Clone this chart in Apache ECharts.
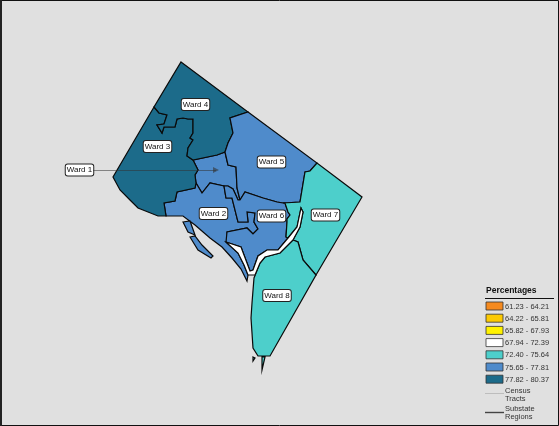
<!DOCTYPE html>
<html>
<head>
<meta charset="utf-8">
<style>
html, body { margin: 0; padding: 0; background: #e0e0e0; }
#main { width: 559px; height: 426px; }
</style>
<script src="https://cdn.jsdelivr.net/npm/echarts@6/dist/echarts.min.js"></script>
</head>
<body>
<div id="main"></div>
<script>
// ward values, percentages
var wardNames = ['Ward 1', 'Ward 2', 'Ward 3', 'Ward 4', 'Ward 5', 'Ward 6', 'Ward 7', 'Ward 8'];
var wardValues = [76.6, 76.9, 79.2, 78.8, 76.3, 76.1, 74.1, 73.6];

// legend classes
var classLabels = ['61.23 - 64.21', '64.22 - 65.81', '65.82 - 67.93', '67.94 - 72.39', '72.40 - 75.64', '75.65 - 77.81', '77.82 - 80.37'];
var classMin = [61.23, 64.22, 65.82, 67.94, 72.40, 75.65, 77.82];
var classMax = [64.21, 65.81, 67.93, 72.39, 75.64, 77.81, 80.37];
var classColors = ['#f58a1f', '#fcca03', '#fff200', '#ffffff', '#4dcfcb', '#4f8bcb', '#1c6b8a'];

// outlines in map units
var ward1 = [[193,160],[217,155],[225,152],[228,165],[236,167],[237,188],[240,200],[238,200],[233,189],[228,186],[224,186],[210,183],[202,193],[196,183],[195,175],[198,170]];
var ward2 = [[166,216],[183,216],[195,225],[210,238],[222,247],[232,258],[241,269],[247,281],[248,275],[244,265],[238,253],[227,243],[226,242],[227,232],[247,228],[253,234],[258,229],[254,222],[255,213],[247,212],[248,222],[238,222],[232,198],[226,198],[224,186],[210,183],[202,193],[196,183],[195,188],[177,192],[175,201],[164,203]];
var ward2Island1 = [[183,222],[190,221],[195,235],[188,232]];
var ward2Island2 = [[190,237],[195,236],[202,245],[213,256],[211,258],[198,250]];
var ward3 = [[154,107],[159,113],[167,115],[164,124],[157,125],[162,133],[164,127],[175,127],[177,119],[183,118],[188,119],[193,119],[193,133],[190,138],[193,140],[188,148],[187,156],[193,160],[198,170],[195,175],[196,183],[195,188],[177,192],[175,201],[164,203],[166,216],[158,216],[148,212],[138,208],[130,200],[120,190],[113,177]];
var ward4 = [[181,62],[248,112],[230,118],[233,133],[228,143],[225,152],[217,155],[193,160],[187,156],[188,148],[193,140],[190,138],[193,133],[193,119],[188,119],[183,118],[177,119],[175,127],[164,127],[162,133],[157,125],[164,124],[167,115],[159,113],[154,107]];
var ward5 = [[248,112],[317,163],[310,171],[305,172],[300,202],[283,203],[277,202],[263,198],[245,192],[240,200],[237,188],[236,167],[228,165],[225,152],[228,143],[233,133],[230,118]];
var ward6 = [[224,186],[228,186],[233,189],[238,200],[240,200],[245,192],[263,198],[277,202],[283,203],[285,203],[288,212],[290,215],[287,219],[287,222],[286,237],[288,238],[278,250],[267,250],[258,256],[253,270],[250,271],[241,247],[226,242],[227,232],[247,228],[253,234],[258,229],[254,222],[255,213],[247,212],[248,222],[238,222],[232,198],[226,198]];
var ward7 = [[283,203],[300,202],[305,172],[310,171],[317,163],[362,197],[316,275],[303,260],[298,242],[293,240],[300,227],[303,212],[301,208],[297,227],[288,238],[286,237],[287,222],[287,219],[290,215],[288,212],[285,203]];
var ward8 = [[293,240],[280,253],[265,257],[260,263],[254,278],[252,303],[251,318],[252,333],[253,348],[258,356],[270,356],[316,275],[303,260],[298,242]];
var ward8Islet = [[253,357],[255,358],[253,361]];
var ward8Tail = [[262,357],[265,357],[262,370]];
var river = [[226,242],[241,247],[250,271],[253,270],[258,256],[267,250],[278,250],[288,238],[297,227],[301,208],[303,212],[300,227],[293,240],[280,253],[265,257],[260,263],[255,275],[248,275],[244,265],[238,253],[227,243]];

// where the ward labels sit
var wardLabelAt = [[79.5,170],[213.5,213.5],[157.5,146.5],[195.5,104.5],[271.5,162],[271.5,216],[325.5,215],[277,295.5]];
var ward1Leader = [[93,170],[216,170]];

var wardShapes = [[ward1], [ward2, ward2Island1, ward2Island2], [ward3], [ward4], [ward5], [ward6], [ward7], [ward8, ward8Islet, ward8Tail]];

function closeRing(ring) {
	return [ring.concat([ring[0]])];
}

var features = wardNames.map(function(name, i) {
	return {
		type: 'Feature',
		properties: { name: name, cp: wardLabelAt[i] },
		geometry: { type: 'MultiPolygon', coordinates: wardShapes[i].map(closeRing) }
	};
});
features.push({
	type: 'Feature',
	properties: { name: 'River', cp: [265, 255] },
	geometry: { type: 'Polygon', coordinates: closeRing(river) }
});

echarts.registerMap('wards', { type: 'FeatureCollection', features: features });

// extent of the outlines, so that one map unit is one pixel
var xs = [], ys = [];
wardShapes.forEach(function(shape) {
	shape.forEach(function(ring) {
		ring.forEach(function(p) { xs.push(p[0]); ys.push(p[1]); });
	});
});
var minX = Math.min.apply(null, xs), maxX = Math.max.apply(null, xs);
var minY = Math.min.apply(null, ys), maxY = Math.max.apply(null, ys);

var legendX = 486, fontName = 'Liberation Sans', legendFont = '7.5px ' + fontName;
var legendItems = [
	{ type: 'text', style: { x: legendX, y: 286.5, text: 'Percentages', font: 'bold 8.5px ' + fontName, fill: '#111' } },
	{ type: 'line', shape: { x1: 485, y1: 298.5, x2: 554, y2: 298.5 }, style: { stroke: '#111', lineWidth: 1 } }
];
classLabels.forEach(function(label, i) {
	var y = 302 + i * 12.2;
	legendItems.push({ type: 'rect', shape: { x: legendX, y: y, width: 17, height: 8 }, style: { fill: classColors[i], stroke: '#333', lineWidth: 0.8 } });
	legendItems.push({ type: 'text', style: { x: 505, y: y + 0.5, text: label, font: legendFont, fill: '#333' } });
});
legendItems.push({ type: 'line', shape: { x1: 485, y1: 393.5, x2: 504, y2: 393.5 }, style: { stroke: '#bdbdbd', lineWidth: 1 } });
legendItems.push({ type: 'text', style: { x: 505, y: 387, text: 'Census', font: legendFont, fill: '#333' } });
legendItems.push({ type: 'text', style: { x: 505, y: 395, text: 'Tracts', font: legendFont, fill: '#333' } });
legendItems.push({ type: 'line', shape: { x1: 485, y1: 412.5, x2: 504, y2: 412.5 }, style: { stroke: '#444', lineWidth: 1.4 } });
legendItems.push({ type: 'text', style: { x: 505, y: 405, text: 'Substate', font: legendFont, fill: '#333' } });
legendItems.push({ type: 'text', style: { x: 505, y: 413, text: 'Regions', font: legendFont, fill: '#333' } });
// page frame, heavier on the left
legendItems.push({ type: 'rect', silent: true, shape: { x: 0.5, y: 0.5, width: 558, height: 425 }, style: { fill: 'none', stroke: '#111', lineWidth: 1 } });
legendItems.push({ type: 'line', silent: true, shape: { x1: 1, y1: 0, x2: 1, y2: 426 }, style: { stroke: '#222', lineWidth: 2 } });

var option = {
	backgroundColor: '#e0e0e0',
	animation: false,
	visualMap: {
		show: false,
		seriesIndex: 0,
		pieces: classLabels.map(function(label, i) {
			return { min: classMin[i], max: classMax[i], color: classColors[i] };
		})
	},
	geo: {
		map: 'wards',
		roam: false,
		silent: true,
		left: minX,
		top: minY,
		width: maxX - minX,
		height: maxY - minY,
		projection: {
			project: function(p) { return p; },
			unproject: function(p) { return p; }
		},
		itemStyle: { borderColor: '#0a0a0a', borderWidth: 1.2, areaColor: '#e0e0e0' },
		label: {
			show: true,
			color: '#111',
			fontFamily: fontName,
			fontSize: 8,
			backgroundColor: '#fff',
			borderColor: '#222',
			borderWidth: 1,
			borderRadius: 2,
			padding: [2, 1, 1, 1]
		},
		regions: [{
			name: 'River',
			itemStyle: { areaColor: '#ffffff' },
			label: { show: false }
		}]
	},
	series: [{
		type: 'map',
		geoIndex: 0,
		data: wardNames.map(function(name, i) {
			return { name: name, value: wardValues[i] };
		})
	}, {
		type: 'lines',
		coordinateSystem: 'geo',
		silent: true,
		symbol: ['none', 'triangle'],
		symbolSize: 6,
		lineStyle: { color: '#333', width: 0.9, opacity: 0.6 },
		data: [{ coords: ward1Leader }]
	}],
	graphic: { elements: legendItems }
};

var chart = echarts.init(document.getElementById('main'));
chart.setOption(option);
</script>
</body>
</html>
